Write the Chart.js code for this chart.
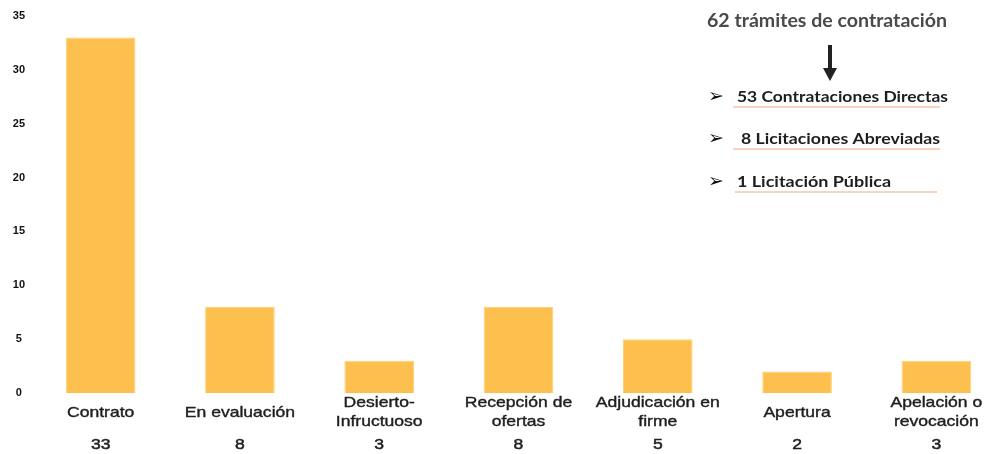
<!DOCTYPE html>
<html>
<head>
<meta charset="utf-8">
<script src="https://cdn.jsdelivr.net/npm/chart.js@4"></script>
<style>
  html, body { margin: 0; padding: 0; background: #fff; overflow: hidden; }
  #wrap { width: 1010px; height: 454px; position: relative; }
</style>
</head>
<body>
<div id="wrap"><canvas id="estadoChart"></canvas></div>
<script>
// Estado de los trámites
const categorias = [
    ['Contrato'],
    ['En evaluación'],
    ['Desierto-', 'Infructuoso'],
    ['Recepción de', 'ofertas'],
    ['Adjudicación en', 'firme'],
    ['Apertura'],
    ['Apelación o', 'revocación']
];
const valores = [33, 8, 3, 8, 5, 2, 3];
const ticksY = [0, 5, 10, 15, 20, 25, 30, 35];

// Resumen por tipo de contratación
const tituloResumen = '62 trámites de contratación';
const lineasResumen = ['53 Contrataciones Directas', ' 8 Licitaciones Abreviadas', '1 Licitación Pública'];

const colorBarra = '#FDC04F';

// texto estirado en horizontal, con un leve trazo para darle más cuerpo
function textoAncho(ctx, t, x, y, font, sx, trazo) {
    ctx.save();
    ctx.translate(x, y);
    ctx.scale(sx, 1);
    ctx.font = font;
    if (trazo) {
        ctx.strokeStyle = ctx.fillStyle;
        ctx.lineWidth = trazo;
        ctx.strokeText(t, 0, 0);
    }
    ctx.fillText(t, 0, 0);
    ctx.restore();
}

// Etiquetas de categoría y valores bajo el eje
const etiquetasPlugin = {
    id: 'etiquetas',
    afterDraw(chart) {
        const ctx = chart.ctx;
        const x = chart.scales.x;
        const font = '15px "Liberation Sans", Arial, sans-serif';
        ctx.save();
        ctx.fillStyle = '#1e1e1e';
        ctx.textAlign = 'center';
        ctx.textBaseline = 'middle';
        categorias.forEach((lineas, i) => {
            const px = x.getPixelForValue(i);
            const y0 = lineas.length === 1 ? 413 : 403;
            lineas.forEach((t, j) => textoAncho(ctx, t, px, y0 + j * 19, font, 1.17, 0.4));
            textoAncho(ctx, String(valores[i]), px, 445, font, 1.17, 0.5);
        });
        ctx.restore();
    }
};

// Cuadro de resumen a la derecha
const resumenPlugin = {
    id: 'resumen',
    afterDraw(chart) {
        const ctx = chart.ctx;
        ctx.save();
        ctx.textBaseline = 'middle';
        ctx.textAlign = 'left';
        ctx.fillStyle = '#4a4a4a';
        ctx.font = 'bold 19px Lato, "Open Sans", sans-serif';
        const w = ctx.measureText(tituloResumen).width;
        textoAncho(ctx, tituloResumen, 707, 21, ctx.font, 240 / w);

        // flecha
        ctx.strokeStyle = '#222';
        ctx.fillStyle = '#222';
        ctx.lineWidth = 4;
        ctx.beginPath();
        ctx.moveTo(830, 45);
        ctx.lineTo(830, 69);
        ctx.stroke();
        ctx.beginPath();
        ctx.moveTo(823, 68);
        ctx.lineTo(837, 68);
        ctx.lineTo(830, 81);
        ctx.closePath();
        ctx.fill();

        const ys = [97, 139, 182];
        const anchos = [211, 199, 154];
        const subr = [[733, 940], [733, 940], [735, 937]];
        lineasResumen.forEach((t, i) => {
            ctx.fillStyle = '#111';
            ctx.font = 'bold 19px "DejaVu Sans", sans-serif';
            ctx.fillText('\u27A2', 708, ys[i]);
            ctx.fillStyle = '#1e1e1e';
            ctx.font = 'bold 16px Lato, "Open Sans", sans-serif';
            const tw = ctx.measureText(t.trim()).width;
            const x0 = t.startsWith(' ') ? 741 : 737;
            textoAncho(ctx, t.trim(), x0, ys[i], ctx.font, anchos[i] / tw);
            ctx.strokeStyle = '#F3A681';
            ctx.lineWidth = 1.2;
            ctx.beginPath();
            ctx.moveTo(subr[i][0], ys[i] + 10);
            ctx.lineTo(subr[i][1], ys[i] + 10);
            ctx.stroke();
        });
        ctx.restore();
    }
};

const ctx = document.getElementById('estadoChart').getContext('2d');
new Chart(ctx, {
    type: 'bar',
    data: {
        labels: categorias,
        datasets: [{
            data: valores,
            backgroundColor: colorBarra,
            borderColor: '#FFD270',
            borderWidth: 1,
            barPercentage: 0.5,
            categoryPercentage: 1
        }]
    },
    options: {
        responsive: true,
        maintainAspectRatio: false,
        animation: false,
        layout: { padding: { top: 16, bottom: 53, right: 4, left: 0 } },
        plugins: { legend: { display: false }, tooltip: { enabled: false } },
        scales: {
            x: {
                grid: { display: false },
                border: { display: false },
                ticks: { display: false }
            },
            y: {
                min: 0,
                max: 35,
                afterBuildTicks(scale) {
                    scale.ticks = ticksY.map(v => ({ value: v }));
                },
                afterFit(scale) { scale.width = 31; },
                grid: { display: false },
                border: { display: false },
                ticks: {
                    crossAlign: 'center',
                    padding: -2,
                    color: '#111',
                    font: { family: '"Liberation Sans", Arial, sans-serif', size: 11, weight: 'bold' }
                }
            }
        }
    },
    plugins: [etiquetasPlugin, resumenPlugin]
});
</script>
</body>
</html>
